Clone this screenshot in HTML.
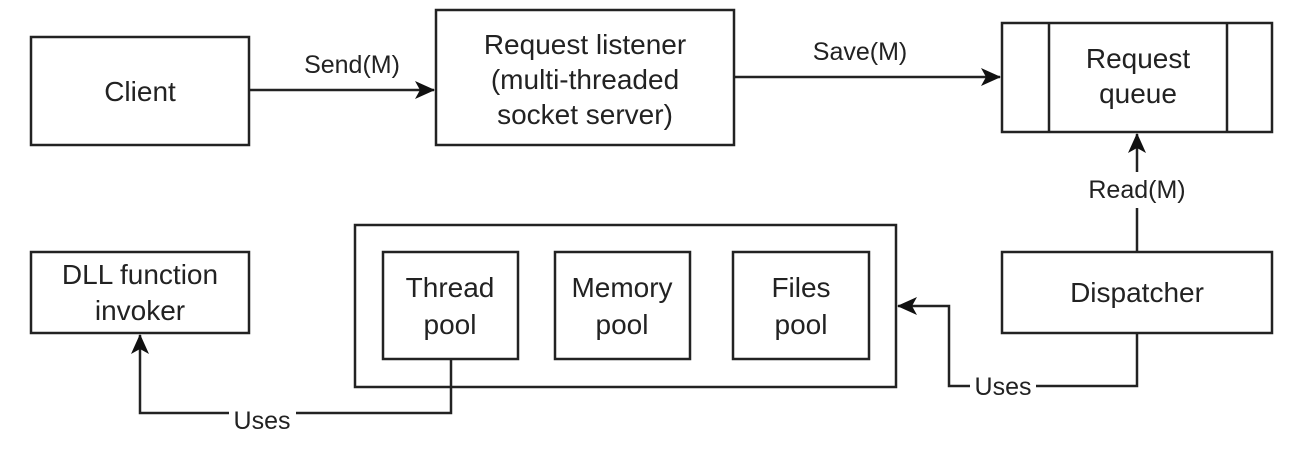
<!DOCTYPE html>
<html><head><meta charset="utf-8"><style>
html,body{margin:0;padding:0;background:#fff;}
svg text{font-family:"Liberation Sans",sans-serif;fill:#222;}
</style></head><body>
<svg width="1301" height="453" viewBox="0 0 1301 453" xmlns="http://www.w3.org/2000/svg">
<defs><marker id="b" viewBox="0 0 20 20" refX="19" refY="10" markerWidth="20" markerHeight="20" markerUnits="userSpaceOnUse" orient="auto"><path d="M0,1 L20,10 L0,19 L5,10 z" fill="#111"/></marker></defs>
<g fill="none" stroke="#222" stroke-width="2.5">
<rect x="31" y="37" width="218" height="108"/>
<rect x="436" y="10" width="298" height="135"/>
<rect x="1002" y="23" width="270" height="109"/>
<line x1="1049" y1="23" x2="1049" y2="132"/>
<line x1="1227" y1="23" x2="1227" y2="132"/>
<rect x="31" y="252" width="218" height="81"/>
<rect x="355" y="225" width="541" height="162"/>
<rect x="383" y="252" width="135" height="107"/>
<rect x="555" y="252" width="135" height="107"/>
<rect x="733" y="252" width="136" height="107"/>
<rect x="1002" y="252" width="270" height="81"/>
<line x1="249" y1="90" x2="434" y2="90" marker-end="url(#b)"/>
<line x1="734" y1="77" x2="1000" y2="77" marker-end="url(#b)"/>
<polyline points="1137,252 1137,208"/>
<line x1="1137" y1="172" x2="1137" y2="134" marker-end="url(#b)"/>
<polyline points="451,359 451,413 296,413"/>
<polyline points="229,413 140,413 140,335" marker-end="url(#b)"/>
<polyline points="1137,333 1137,386 1036,386"/>
<polyline points="970,386 949,386 949,306 898,306" marker-end="url(#b)"/>
</g>
<g font-size="28" text-anchor="middle">
<text x="140" y="101">Client</text>
<text x="585" y="54">Request listener</text>
<text x="585" y="89">(multi-threaded</text>
<text x="585" y="124">socket server)</text>
<text x="1138" y="68">Request</text>
<text x="1138" y="103">queue</text>
<text x="140" y="284">DLL function</text>
<text x="140" y="320">invoker</text>
<text x="450" y="297">Thread</text>
<text x="450" y="334">pool</text>
<text x="622" y="297">Memory</text>
<text x="622" y="334">pool</text>
<text x="801" y="297">Files</text>
<text x="801" y="334">pool</text>
<text x="1137" y="302">Dispatcher</text>
</g>
<g font-size="25" text-anchor="middle">
<text x="352" y="73">Send(M)</text>
<text x="860" y="60">Save(M)</text>
<text x="1137" y="198">Read(M)</text>
<text x="262" y="429">Uses</text>
<text x="1003" y="395">Uses</text>
</g>
</svg>
</body></html>
